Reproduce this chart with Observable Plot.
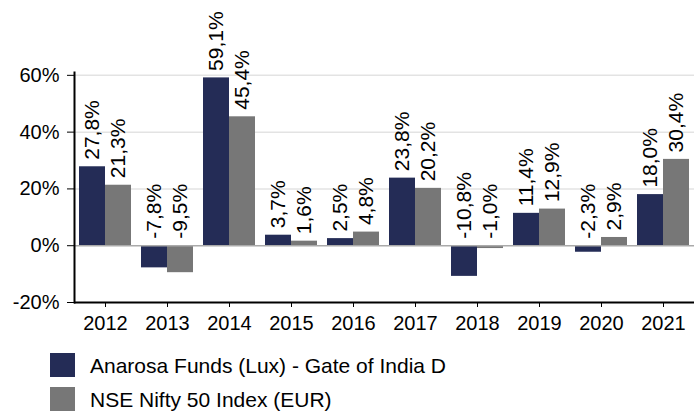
<!DOCTYPE html>
<html><head><meta charset="utf-8">
<script src="https://cdn.jsdelivr.net/npm/d3@7"></script>
<script src="https://cdn.jsdelivr.net/npm/@observablehq/plot@0.6"></script>
<style>
body{margin:0;background:#fff;font-family:Arial,"Liberation Sans",sans-serif;}
#legend{margin-top:8px;padding-left:50px;}
.row{display:flex;align-items:center;height:34px;font-size:21px;color:#000;}
.row span{position:relative;top:1px;}
.sw{width:25px;height:24px;margin-right:15px;}
</style></head><body><div id="chart"></div><div id="legend"></div>
<script>
const years = ["2012","2013","2014","2015","2016","2017","2018","2019","2020","2021"];
const fund = [27.8, -7.8, 59.1, 3.7, 2.5, 23.8, -10.8, 11.4, -2.3, 18.0];
const index = [21.3, -9.5, 45.4, 1.6, 4.8, 20.2, -1.0, 12.9, 2.9, 30.4];
const seriesNames = ["Anarosa Funds (Lux) - Gate of India D", "NSE Nifty 50 Index (EUR)"];
const seriesColors = ["#242c56", "#777777"];
const yTicks = [-20, 0, 20, 40, 60];
const gridTicks = [20, 40, 60];

const data = years.flatMap((y, i) => [
  {year: y, series: seriesNames[0], value: fund[i]},
  {year: y, series: seriesNames[1], value: index[i]}
]);
const fmt = v => v.toFixed(1).replace(".", ",") + "%";

const plot = Plot.plot({
  width: 696, height: 340, marginLeft: 72, marginRight: 1, marginTop: 72, marginBottom: 38,
  style: {fontFamily: 'Arial, "Liberation Sans", sans-serif', fontSize: "20px", color: "#000", background: "#fff", overflow: "visible"},
  fx: {domain: years, padding: 0, label: null},
  x: {domain: seriesNames, paddingInner: 0, paddingOuter: 0.182, axis: null},
  y: {domain: [-20, 61], axis: null},
  color: {domain: seriesNames, range: seriesColors},
  marks: [
    Plot.gridY(gridTicks, {stroke: "#e3e3e3", strokeOpacity: 1, strokeWidth: 1.5}),
    Plot.barY(data, {fx: "year", x: "series", y: "value", fill: "series"}),
    Plot.ruleY([0], {stroke: "#aaaaaa", strokeWidth: 1.5}),
    Plot.ruleY([-20], {stroke: "#000", strokeWidth: 2}),
    Plot.frame({anchor: "left", facetAnchor: "left", stroke: "#000", strokeWidth: 2}),
    Plot.axisY(yTicks, {tickFormat: d => d + "%", tickSize: 7, tickPadding: 8, fontSize: 20, label: null, stroke: "#000"}),
    Plot.axisFx({anchor: "bottom", tickSize: 5, tickPadding: 8, fontSize: 20, label: null, stroke: "#000"}),
    Plot.text(data, {fx: "year", x: "series", y: d => Math.max(d.value, 0), text: d => fmt(d.value),
      rotate: -90, textAnchor: "start", lineAnchor: "middle", dy: -7, fontSize: 21, fill: "#000"})
  ]
});
document.getElementById("chart").appendChild(plot);

const legend = document.getElementById("legend");
seriesNames.forEach((n, i) => {
  const row = document.createElement("div");
  row.className = "row";
  const sw = document.createElement("div");
  sw.className = "sw";
  sw.style.background = seriesColors[i];
  const t = document.createElement("span");
  t.textContent = n;
  row.appendChild(sw); row.appendChild(t);
  legend.appendChild(row);
});
</script></body></html>
